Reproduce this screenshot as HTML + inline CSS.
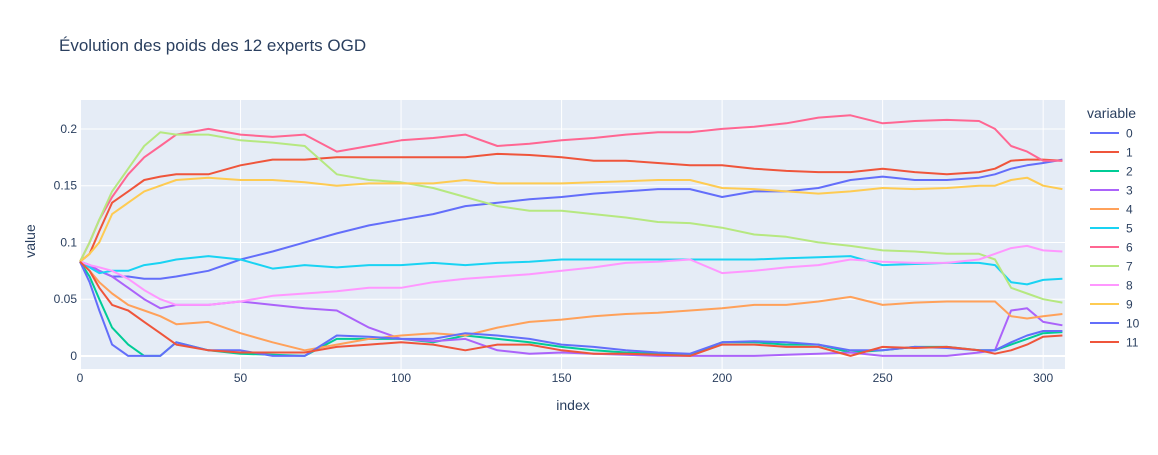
<!DOCTYPE html>
<html><head><meta charset="utf-8">
<style>
body{margin:0;background:#fff;font-family:"Liberation Sans",Arial,sans-serif;}
svg text{font-family:"Liberation Sans",Arial,sans-serif;fill:#2a3f5f;}
</style></head>
<body>
<svg id="chart" width="1158" height="450" xmlns="http://www.w3.org/2000/svg">
<rect width="1158" height="450" fill="#fff"/>
<text x="59" y="51" font-size="17">Évolution des poids des 12 experts OGD</text>
<rect x="80" y="100" width="985" height="269" fill="#e5ecf6"/>
<g id="grid"></g>
<g id="lines"></g>
<g id="ticks"></g>
<text x="573" y="410" font-size="14" text-anchor="middle">index</text>
<text x="35" y="241" font-size="14" text-anchor="middle" transform="rotate(-90 35 241)">value</text>
<text x="1087" y="118" font-size="14">variable</text>
<g id="legend"></g>
</svg>
<script>
const xs=[0,3,6,10,15,20,25,30,40,50,60,70,80,90,100,110,120,130,140,150,160,170,180,190,200,210,220,230,240,250,260,270,280,285,290,295,300,306];
const s0=[.083,.08,.075,.07,.07,.068,.068,.07,.075,.085,.092,.1,.108,.115,.12,.125,.132,.135,.138,.14,.143,.145,.147,.147,.14,.145,.145,.148,.155,.158,.155,.155,.157,.16,.165,.168,.17,.173];
const s1=[.083,.09,.11,.135,.145,.155,.158,.16,.16,.168,.173,.173,.175,.175,.175,.175,.175,.178,.177,.175,.172,.172,.17,.168,.168,.165,.163,.162,.162,.165,.162,.16,.162,.165,.172,.173,.173,.172];
const s2=[.083,.07,.05,.025,.01,0,0,.012,.005,.002,.001,0,.015,.015,.015,.012,.018,.015,.012,.008,.005,.003,.002,.001,.012,.012,.01,.01,.003,.005,.008,.008,.005,.005,.01,.015,.02,.021];
const s3=[.083,.08,.075,.07,.06,.05,.042,.045,.045,.048,.045,.042,.04,.025,.015,.013,.015,.005,.002,.003,.002,.001,0,0,0,0,.001,.002,.003,0,0,0,.003,.005,.04,.042,.03,.027];
const s4=[.083,.075,.065,.055,.045,.04,.035,.028,.03,.02,.012,.005,.01,.015,.018,.02,.018,.025,.03,.032,.035,.037,.038,.04,.042,.045,.045,.048,.052,.045,.047,.048,.048,.048,.035,.033,.035,.037];
const s5=[.083,.078,.073,.075,.075,.08,.082,.085,.088,.085,.077,.08,.078,.08,.08,.082,.08,.082,.083,.085,.085,.085,.085,.085,.085,.085,.086,.087,.088,.08,.081,.082,.082,.08,.065,.063,.067,.068];
const s6=[.083,.1,.12,.14,.16,.175,.185,.195,.2,.195,.193,.195,.18,.185,.19,.192,.195,.185,.187,.19,.192,.195,.197,.197,.2,.202,.205,.21,.212,.205,.207,.208,.207,.2,.185,.18,.172,.172];
const s7=[.083,.1,.12,.145,.165,.185,.197,.195,.195,.19,.188,.185,.16,.155,.153,.148,.14,.132,.128,.128,.125,.122,.118,.117,.113,.107,.105,.1,.097,.093,.092,.09,.09,.085,.06,.055,.05,.047];
const s8=[.083,.08,.078,.075,.068,.058,.05,.045,.045,.048,.053,.055,.057,.06,.06,.065,.068,.07,.072,.075,.078,.082,.083,.085,.073,.075,.078,.08,.085,.083,.082,.082,.085,.09,.095,.097,.093,.092];
const s9=[.083,.09,.1,.125,.135,.145,.15,.155,.157,.155,.155,.153,.15,.152,.152,.152,.155,.152,.152,.152,.153,.154,.155,.155,.148,.147,.145,.143,.145,.148,.147,.148,.15,.15,.155,.157,.15,.147];
const s10=[.083,.065,.04,.01,0,0,0,.012,.005,.005,0,0,.018,.017,.015,.015,.02,.018,.015,.01,.008,.005,.003,.002,.012,.013,.012,.01,.005,.005,.008,.007,.005,.005,.012,.018,.022,.022];
const s11=[.083,.075,.06,.045,.04,.03,.02,.01,.005,.003,.003,.003,.008,.01,.012,.01,.005,.01,.01,.005,.002,.002,.001,0,.01,.01,.008,.008,0,.008,.007,.008,.005,.002,.005,.01,.017,.018];
const series=[s0,s1,s2,s3,s4,s5,s6,s7,s8,s9,s10,s11];
const names=["0","1","2","3","4","5","6","7","8","9","10","11"];
const colors=["#636efa","#EF553B","#00cc96","#ab63fa","#FFA15A","#19d3f3","#FF6692","#B6E880","#FF97FF","#FECB52","#636efa","#EF553B"];
const xTicks=[0,50,100,150,200,250,300];
const yTicks=[0,0.05,0.1,0.15,0.2];
const yTickLabels=["0","0.05","0.1","0.15","0.2"];
const X0=80,X1=1065,Y0=369,Y1=100,xmin=0,xmax=306.8,ymin=-0.0115,ymax=0.2255;
const sx=v=>X0+(v-xmin)/(xmax-xmin)*(X1-X0);
const sy=v=>Y0-(v-ymin)/(ymax-ymin)*(Y0-Y1);
const NS="http://www.w3.org/2000/svg";
function mk(t,a,p){const e=document.createElementNS(NS,t);for(const k in a)e.setAttribute(k,a[k]);p.appendChild(e);return e;}
const grid=document.getElementById('grid'),ticks=document.getElementById('ticks'),lines=document.getElementById('lines'),legend=document.getElementById('legend');
xTicks.forEach(v=>{
  const l=mk('line',{x1:sx(v),x2:sx(v),y1:Y1,y2:Y0,stroke:'#fff','stroke-width':v===0?2:1},grid);
  
  
  const t=mk('text',{x:sx(v),y:382,'font-size':12,'text-anchor':'middle'},ticks);t.textContent=v;
  
  
});
yTicks.forEach((v,i)=>{
  const l=mk('line',{x1:X0,x2:X1,y1:sy(v),y2:sy(v),stroke:'#fff','stroke-width':v===0?2:1},grid);
  
  
  const t=mk('text',{x:77,y:sy(v)+4,'font-size':12,'text-anchor':'end'},ticks);t.textContent=yTickLabels[i];
  
  
});
series.forEach((s,i)=>{
  const d=s.map((v,j)=>(j?'L':'M')+sx(xs[j]).toFixed(1)+','+sy(v).toFixed(1)).join('');
  const p=mk('path',{d:d,fill:'none',stroke:colors[i],'stroke-width':2,'stroke-linejoin':'round'},lines);
  
  
  const y=133+i*19;
  const g=mk('g',{},legend);
  
  
  mk('line',{x1:1090,x2:1119,y1:y,y2:y,stroke:colors[i],'stroke-width':2},g);
  const t=mk('text',{x:1126,y:y+4.5,'font-size':12},g);t.textContent=names[i];
});
</script>
</body></html>
